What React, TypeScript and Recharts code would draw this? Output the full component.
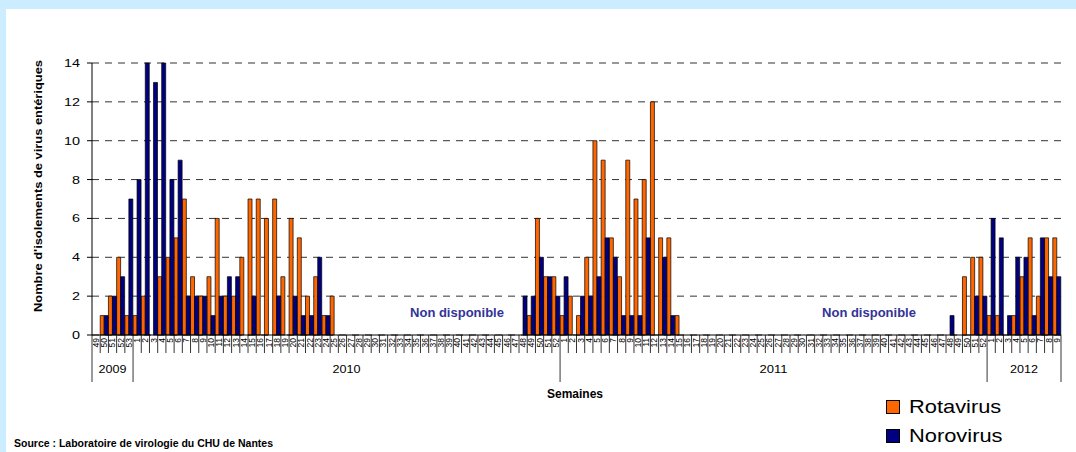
import { BarChart, Bar, XAxis, YAxis, CartesianGrid, Legend } from 'recharts';

const FONT = "'Liberation Sans', Arial, Helvetica, sans-serif";
const _ = null;

// semaines par année (axe des catégories)
const years = [2009, 2010, 2011, 2012];
const weeks2009 = [49, 50, 51, 52, 53];
const weeks2010 = Array.from({ length: 52 }, (_v, i) => i + 1);
const weeks2011 = Array.from({ length: 52 }, (_v, i) => i + 1);
const weeks2012 = [1, 2, 3, 4, 5, 6, 7, 8, 9];

// Rotavirus
const rota2009 = [0, 1, 2, 4, 1];
const rota2010 = [
  1, 2, 0, 3, 4, 5, 7, 3, 2, 3,
  6, 2, 2, 4, 7, 7, 6, 7, 3, 6,
  5, 2, 3, 1, 2,
  _, _, _, _, _, _, _, _, _, _, _,
  _, _, _, _, _, _, _, _, _, _, _,
  0, 1, 6, 3, 3,
];
const rota2011 = [
  1, 2, 1, 4, 10, 9, 5, 3, 9, 7,
  8, 12, 5, 5, 1,
  _, _, _, _, _, _, _, _,
  _, _, _, _, _, _, _, _,
  _, _, _, _, _, _, _, _,
  _, _, _, _, _, _, _, _,
  0, 0, 3, 4, 4,
];
const rota2012 = [1, 1, 0, 1, 3, 5, 2, 5, 5];

// Norovirus
const noro2009 = [0, 1, 2, 3, 7];
const noro2010 = [
  8, 14, 13, 14, 8, 9, 2, 2, 2, 1,
  2, 3, 3, 0, 2, 0, 0, 2, 0, 2,
  1, 1, 4, 1, 0,
  _, _, _, _, _, _, _, _, _, _, _,
  _, _, _, _, _, _, _, _, _, _, _,
  2, 2, 4, 3, 2,
];
const noro2011 = [
  3, 0, 2, 2, 3, 5, 4, 1, 1, 1,
  5, 0, 4, 1, 0,
  _, _, _, _, _, _, _, _,
  _, _, _, _, _, _, _, _,
  _, _, _, _, _, _, _, _,
  _, _, _, _, _, _, _, _,
  1, 0, 0, 2, 2,
];
const noro2012 = [6, 5, 1, 4, 4, 1, 5, 3, 3];

const yTicks = [0, 2, 4, 6, 8, 10, 12, 14];

const weeksByYear = [weeks2009, weeks2010, weeks2011, weeks2012];
const rotaByYear = [rota2009, rota2010, rota2011, rota2012];
const noroByYear = [noro2009, noro2010, noro2011, noro2012];

const data = years.flatMap((year, yi) =>
  weeksByYear[yi].map((week, wi) => ({
    key: `${year}-${week}`,
    week,
    year,
    rota: rotaByYear[yi][wi],
    noro: noroByYear[yi][wi],
  }))
);

const W = 1076;
const H = 452;
const PLOT_LEFT = 92;
const PLOT_RIGHT = 1061;
const AXIS_Y = 335;
const BAND = (PLOT_RIGHT - PLOT_LEFT) / data.length;

function WeekTick(props: any) {
  const { x, index } = props;
  const row = data[index];
  if (!row) return null;
  const left = x - BAND / 2;
  const yearStart = index === 0 || data[index - 1].year !== row.year;
  const last = index === data.length - 1;
  const count = data.filter((d) => d.year === row.year).length;
  return (
    <g>
      <line x1={left} y1={AXIS_Y} x2={left} y2={yearStart ? AXIS_Y + 47 : AXIS_Y + 18} stroke="#000" strokeWidth={0.8} />
      {last && (
        <line x1={x + BAND / 2} y1={AXIS_Y} x2={x + BAND / 2} y2={AXIS_Y + 47} stroke="#000" strokeWidth={0.8} />
      )}
      <text
        x={x}
        y={AXIS_Y + 3}
        dy="0.35em"
        transform={`rotate(-90 ${x} ${AXIS_Y + 3})`}
        textAnchor="end"
        fontSize={8.5}
        fontFamily={FONT}
        fill="#000"
      >
        {row.week}
      </text>
      {yearStart && (
        <text
          x={left + (count * BAND) / 2}
          y={AXIS_Y + 38}
          textAnchor="middle"
          fontSize={11}
          fontFamily={FONT}
          fill="#000"
          textLength={28}
          lengthAdjust="spacingAndGlyphs"
        >
          {row.year}
        </text>
      )}
    </g>
  );
}

function CountTick(props: any) {
  const { x, y, payload } = props;
  const label = String(payload.value);
  return (
    <text
      x={x}
      y={y}
      dy="0.35em"
      textAnchor="end"
      fontSize={11.5}
      fontFamily={FONT}
      fill="#000"
      textLength={label.length * 8}
      lengthAdjust="spacingAndGlyphs"
    >
      {label}
    </text>
  );
}

function LegendBox() {
  const items = [
    { name: 'Rotavirus', color: '#FF6600' },
    { name: 'Norovirus', color: '#000080' },
  ];
  return (
    <div style={{ fontFamily: FONT }}>
      {items.map((it) => (
        <div key={it.name} style={{ display: 'flex', alignItems: 'center', height: 29 }}>
          <span style={{ display: 'inline-block', width: 12, height: 12, background: it.color, border: '1px solid #000', marginRight: 9 }} />
          <span style={{ fontSize: 19, color: '#000', display: 'inline-block', transform: 'scaleX(1.15)', transformOrigin: 'left center' }}>{it.name}</span>
        </div>
      ))}
    </div>
  );
}

export default function App() {
  return (
    <div style={{ position: 'relative', width: W, height: H, background: '#fff', overflow: 'hidden' }}>
      <style>{'body{margin:0}'}</style>
      <div style={{ position: 'absolute', left: 0, top: 0, width: W, height: 9, background: '#CCECFF' }} />
      <div style={{ position: 'absolute', left: 0, top: 0, width: 6, height: H, background: '#CCECFF' }} />
      <BarChart
        width={W}
        height={H}
        data={data}
        margin={{ top: 63, right: W - PLOT_RIGHT, bottom: H - AXIS_Y - 50, left: 0 }}
        barCategoryGap={0}
        barGap={0}
      >
        <CartesianGrid vertical={false} stroke="#333" strokeDasharray="7 6" />
        <XAxis dataKey="key" interval={0} tick={<WeekTick />} tickLine={false} axisLine={{ stroke: '#000' }} height={50} />
        <YAxis
          domain={[0, 14]}
          ticks={yTicks}
          width={PLOT_LEFT}
          tickSize={5}
          tickMargin={7}
          tick={<CountTick />}
          tickLine={{ stroke: '#000' }}
          axisLine={{ stroke: '#000' }}
        />
        <Bar dataKey="rota" name="Rotavirus" fill="#FF6600" stroke="#000" strokeWidth={0.7} isAnimationActive={false} />
        <Bar dataKey="noro" name="Norovirus" fill="#000080" stroke="#000" strokeWidth={0.7} isAnimationActive={false} />
        <Legend
          layout="vertical"
          align="center"
          verticalAlign="middle"
          content={<LegendBox />}
          wrapperStyle={{ position: 'absolute', left: 886, top: 392, width: 160 }}
        />
      </BarChart>
      <svg width={W} height={H} style={{ position: 'absolute', left: 0, top: 0, pointerEvents: 'none' }}>
        <text
          x={38}
          y={186}
          dy="0.35em"
          transform="rotate(-90 38 186)"
          textAnchor="middle"
          fontSize={10.5}
          fontWeight="bold"
          fontFamily={FONT}
          textLength={252}
          lengthAdjust="spacingAndGlyphs"
        >
          Nombre d'isolements de virus entériques
        </text>
        <text x={457} y={316.5} textAnchor="middle" fontSize={13} fontWeight="bold" fill="#333399" fontFamily={FONT}>
          Non disponible
        </text>
        <text x={869} y={316.5} textAnchor="middle" fontSize={13} fontWeight="bold" fill="#333399" fontFamily={FONT}>
          Non disponible
        </text>
        <text x={575} y={398} textAnchor="middle" fontSize={12} fontWeight="bold" fontFamily={FONT}>
          Semaines
        </text>
        <text x={14} y={447} fontSize={10.5} fontWeight="bold" fontFamily={FONT}>
          Source : Laboratoire de virologie du CHU de Nantes
        </text>
      </svg>
    </div>
  );
}
